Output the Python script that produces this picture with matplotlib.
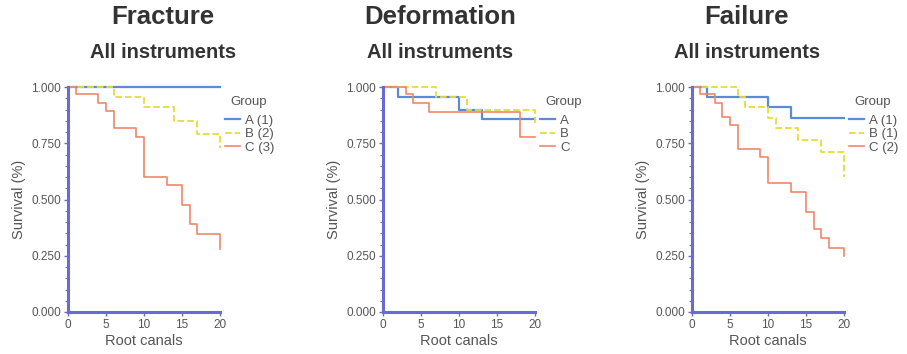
import matplotlib
matplotlib.use("Agg")
import matplotlib.pyplot as plt
from matplotlib.ticker import MultipleLocator, FormatStrFormatter

plt.rcParams['font.family'] = ['Liberation Sans', 'DejaVu Sans']

# panel titles and legend labels
titles = ["Fracture", "Deformation", "Failure"]
subtitle = "All instruments"
legend_labels = [
    ["A (1)", "B (2)", "C (3)"],
    ["A", "B", "C"],
    ["A (1)", "B (1)", "C (2)"],
]

# event times (root canals) and survival after each event
fracture_a_t = [20]
fracture_a_s = [1.0]
fracture_b_t = [6, 10, 14, 17, 20]
fracture_b_s = [0.955, 0.909, 0.85, 0.79, 0.73]
fracture_c_t = [1, 4, 5, 6, 9, 10, 13, 15, 16, 17, 20]
fracture_c_s = [0.967, 0.93, 0.893, 0.82, 0.78, 0.60, 0.563, 0.474, 0.39, 0.345, 0.28]

deform_a_t = [2, 10, 13, 20]
deform_a_s = [0.955, 0.90, 0.86, 0.86]
deform_b_t = [7, 11, 20]
deform_b_s = [0.955, 0.90, 0.84]
deform_c_t = [3, 4, 6, 18, 20]
deform_c_s = [0.967, 0.93, 0.89, 0.78, 0.78]

failure_a_t = [2, 10, 13, 20]
failure_a_s = [0.955, 0.91, 0.864, 0.864]
failure_b_t = [6, 7, 10, 11, 14, 17, 20]
failure_b_s = [0.955, 0.91, 0.864, 0.82, 0.765, 0.71, 0.60]
failure_c_t = [1, 3, 4, 5, 6, 9, 10, 13, 15, 16, 17, 18, 20]
failure_c_s = [0.97, 0.93, 0.866, 0.83, 0.725, 0.69, 0.575, 0.535, 0.445, 0.37, 0.33, 0.285, 0.25]

panels = [
    [(fracture_a_t, fracture_a_s), (fracture_b_t, fracture_b_s), (fracture_c_t, fracture_c_s)],
    [(deform_a_t, deform_a_s), (deform_b_t, deform_b_s), (deform_c_t, deform_c_s)],
    [(failure_a_t, failure_a_s), (failure_b_t, failure_b_s), (failure_c_t, failure_c_s)],
]

kolory = ["#5a8ad8", "#e4dc3c", "#f0866a"]
style = ["-", "--", "-"]
szer = [1.6, 1.3, 1.2]
spine_col = "#6a6ad6"
txt_col = "#555555"

fig = plt.figure(figsize=(9.07, 3.54), dpi=100)

lefts = [68 / 907, 383 / 907, 692 / 907]
width = 152 / 907
bottom = (354 - 312) / 354
height = 225 / 354
title_x = [163, 440, 747]

for i in range(3):
    ax = fig.add_axes([lefts[i], bottom, width, height])
    linie = []
    for j, (t, s) in enumerate(panels[i]):
        x = [0] + t
        y = [1.0] + s
        l, = ax.step(x, y, where='post', color=kolory[j], linestyle=style[j],
                     lw=szer[j], clip_on=False, zorder=3 + j)
        linie.append(l)

    ax.set_xlim(0, 20)
    ax.set_ylim(0, 1.0)
    ax.xaxis.set_major_locator(MultipleLocator(5))
    ax.yaxis.set_major_locator(MultipleLocator(0.25))
    ax.yaxis.set_minor_locator(MultipleLocator(0.05))
    ax.yaxis.set_major_formatter(FormatStrFormatter('%.3f'))

    for sp in ["top", "right"]:
        ax.spines[sp].set_visible(False)
    for sp in ["left", "bottom"]:
        ax.spines[sp].set_color(spine_col)
        ax.spines[sp].set_linewidth(2.2)
        ax.spines[sp].set_zorder(10)

    ax.tick_params(axis='both', which='major', length=3, width=1, color=spine_col,
                   labelsize=8.5, labelcolor=txt_col, pad=2)
    ax.tick_params(axis='y', which='minor', length=2, width=0.8, color=spine_col)

    ax.set_xlabel("Root canals", fontsize=10.5, color=txt_col, labelpad=2)
    ax.set_ylabel("Survival (%)", fontsize=10.5, color=txt_col, labelpad=4)

    # "Group" naglowek legendy osobno, zeby dac wiekszy odstep
    ax.text(1.07, 0.933, "Group", transform=ax.transAxes, ha='left', va='center',
            fontsize=9.5, color=txt_col)
    leg = ax.legend(linie, legend_labels[i], loc='upper left',
                    bbox_to_anchor=(1.036, 0.878), frameon=False, fontsize=9.5,
                    handlelength=1.1, handletextpad=0.4,
                    labelspacing=0.1, borderaxespad=0, borderpad=0)
    for tx in leg.get_texts():
        tx.set_color(txt_col)

    fig.text(title_x[i] / 907, 1 - 17 / 354, titles[i], ha='center', va='center',
             fontsize=18.5, fontweight='bold', color="#333333")
    fig.text(title_x[i] / 907, 1 - 53 / 354, subtitle, ha='center', va='center',
             fontsize=14.5, fontweight='bold', color="#333333")

fig.savefig("out.png", dpi=100)
